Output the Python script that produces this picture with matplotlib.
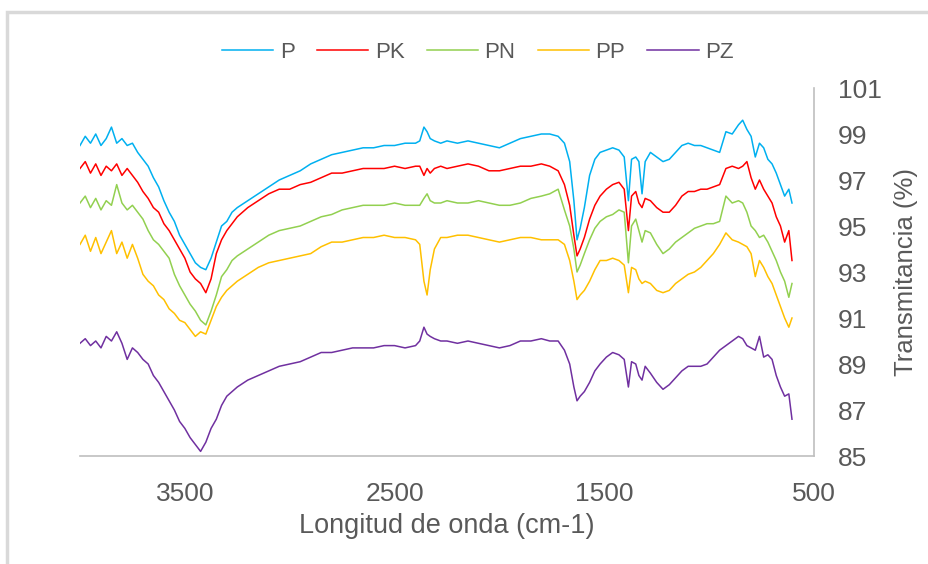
import matplotlib.pyplot as plt
from matplotlib.patches import Rectangle

# Longitud de onda (cm-1), rejilla comun para las cinco muestras
onda = [4000, 3975, 3950, 3925, 3900, 3875, 3850, 3825, 3800, 3775,
        3750, 3725, 3700, 3675, 3650, 3625, 3600, 3575, 3550, 3525,
        3500, 3475, 3450, 3425, 3400, 3375, 3350, 3325, 3300, 3275,
        3250, 3200, 3150, 3100, 3050, 3000, 2950, 2900, 2850, 2800,
        2750, 2700, 2650, 2600, 2550, 2500, 2450, 2400, 2380, 2360,
        2345, 2330, 2310, 2280, 2250, 2200, 2150, 2100, 2050, 2000,
        1950, 1900, 1850, 1800, 1760, 1720, 1690, 1665, 1645, 1630,
        1615, 1595, 1570, 1545, 1520, 1490, 1460, 1430, 1405, 1385,
        1370, 1350, 1335, 1320, 1305, 1280, 1250, 1220, 1190, 1160,
        1130, 1100, 1070, 1040, 1010, 980, 950, 920, 890, 860,
        840, 820, 800, 780, 760, 740, 720, 700, 680, 660,
        640, 620, 605]

P = [98.5, 98.9, 98.6, 99.0, 98.5, 98.8, 99.3, 98.6, 98.8, 98.5,
     98.6, 98.2, 97.9, 97.6, 97.1, 96.7, 96.1, 95.6, 95.2, 94.6,
     94.2, 93.8, 93.4, 93.2, 93.1, 93.6, 94.3, 95.0, 95.2, 95.6,
     95.8, 96.1, 96.4, 96.7, 97.0, 97.2, 97.4, 97.7, 97.9, 98.1,
     98.2, 98.3, 98.4, 98.4, 98.5, 98.5, 98.6, 98.6, 98.7, 99.3,
     99.1, 98.8, 98.7, 98.6, 98.7, 98.6, 98.7, 98.6, 98.5, 98.4,
     98.6, 98.8, 98.9, 99.0, 99.0, 98.9, 98.6, 97.8, 96.1, 94.4,
     94.9, 95.8, 97.2, 97.9, 98.2, 98.3, 98.4, 98.3, 98.0, 96.1,
     97.9, 98.0, 97.8, 96.4, 97.8, 98.2, 98.0, 97.8, 97.9, 98.2,
     98.5, 98.6, 98.5, 98.5, 98.4, 98.3, 98.2, 99.1, 99.0, 99.4,
     99.6, 99.2, 98.9, 98.0, 98.6, 98.4, 97.9, 97.7, 97.3, 96.8,
     96.3, 96.6, 96.0]

PK = [97.5, 97.8, 97.3, 97.7, 97.2, 97.6, 97.4, 97.7, 97.2, 97.5,
      97.2, 96.9, 96.5, 96.2, 95.8, 95.6, 95.1, 94.8, 94.4, 94.0,
      93.6, 93.0, 92.7, 92.5, 92.1, 92.7, 93.8, 94.4, 94.8, 95.1,
      95.4, 95.8, 96.1, 96.4, 96.6, 96.6, 96.8, 96.9, 97.1, 97.3,
      97.3, 97.4, 97.5, 97.5, 97.5, 97.6, 97.5, 97.6, 97.6, 97.2,
      97.5, 97.3, 97.5, 97.6, 97.5, 97.6, 97.7, 97.6, 97.4, 97.4,
      97.5, 97.6, 97.6, 97.7, 97.6, 97.4, 96.8, 95.9, 94.6, 93.7,
      94.0, 94.5, 95.3, 95.9, 96.3, 96.6, 96.8, 96.9, 96.6, 94.8,
      96.3, 96.5, 96.0, 95.8, 96.2, 96.1, 95.8, 95.6, 95.6, 95.9,
      96.3, 96.5, 96.5, 96.6, 96.6, 96.7, 96.8, 97.5, 97.6, 97.5,
      97.6, 97.8, 97.1, 96.6, 97.0, 96.6, 96.3, 96.0, 95.4, 95.0,
      94.3, 94.8, 93.5]

PN = [96.0, 96.3, 95.8, 96.2, 95.7, 96.1, 95.9, 96.8, 96.0, 95.7,
      95.9, 95.6, 95.3, 94.8, 94.4, 94.2, 93.9, 93.6, 92.9, 92.4,
      92.0, 91.6, 91.3, 90.9, 90.7, 91.3, 92.0, 92.8, 93.1, 93.5,
      93.7, 94.0, 94.3, 94.6, 94.8, 94.9, 95.0, 95.2, 95.4, 95.5,
      95.7, 95.8, 95.9, 95.9, 95.9, 96.0, 95.9, 95.9, 95.9, 96.2,
      96.4, 96.1, 96.0, 96.0, 96.1, 96.0, 96.0, 96.1, 96.0, 95.9,
      95.9, 96.0, 96.2, 96.3, 96.4, 96.6, 95.7, 95.0, 94.0, 93.0,
      93.3, 93.8, 94.4, 94.9, 95.2, 95.4, 95.5, 95.7, 95.6, 93.4,
      95.0, 95.3, 94.8, 94.3, 94.8, 94.7, 94.2, 93.8, 94.0, 94.3,
      94.5, 94.7, 94.9, 95.0, 95.1, 95.1, 95.2, 96.3, 96.0, 96.1,
      96.0, 95.6, 95.0, 94.8, 94.5, 94.6, 94.3, 93.9, 93.5, 93.0,
      92.6, 91.9, 92.5]

PP = [94.2, 94.6, 93.9, 94.5, 93.8, 94.3, 94.8, 93.8, 94.3, 93.6,
      94.2, 93.6, 92.9, 92.6, 92.4, 92.0, 91.8, 91.4, 91.2, 90.9,
      90.8, 90.5, 90.2, 90.4, 90.3, 90.9, 91.5, 91.9, 92.2, 92.4,
      92.6, 92.9, 93.2, 93.4, 93.5, 93.6, 93.7, 93.8, 94.1, 94.3,
      94.3, 94.4, 94.5, 94.5, 94.6, 94.5, 94.5, 94.4, 94.2, 92.6,
      92.0, 93.1, 94.0, 94.5, 94.5, 94.6, 94.6, 94.5, 94.4, 94.3,
      94.4, 94.5, 94.5, 94.4, 94.4, 94.4, 94.2, 93.5, 92.6, 91.8,
      92.0, 92.2, 92.6, 93.1, 93.5, 93.5, 93.6, 93.5, 93.3, 92.1,
      93.2, 93.1, 92.7, 92.5, 92.6, 92.5, 92.2, 92.1, 92.2, 92.5,
      92.7, 92.9, 93.0, 93.2, 93.5, 93.8, 94.2, 94.7, 94.4, 94.3,
      94.2, 94.1, 93.8, 92.8, 93.5, 93.2, 92.8, 92.5, 92.0, 91.5,
      91.0, 90.6, 91.0]

PZ = [89.9, 90.1, 89.8, 90.0, 89.7, 90.2, 90.0, 90.4, 89.9, 89.2,
      89.7, 89.5, 89.2, 89.0, 88.5, 88.2, 87.8, 87.4, 87.0, 86.5,
      86.2, 85.8, 85.5, 85.2, 85.6, 86.2, 86.6, 87.2, 87.6, 87.8,
      88.0, 88.3, 88.5, 88.7, 88.9, 89.0, 89.1, 89.3, 89.5, 89.5,
      89.6, 89.7, 89.7, 89.7, 89.8, 89.8, 89.7, 89.8, 90.0, 90.6,
      90.3, 90.2, 90.1, 90.0, 90.0, 89.9, 90.0, 89.9, 89.8, 89.7,
      89.8, 90.0, 90.0, 90.1, 90.0, 90.0, 89.6, 89.0, 88.0, 87.4,
      87.6, 87.8, 88.2, 88.7, 89.0, 89.3, 89.5, 89.4, 89.2, 88.0,
      89.1, 89.0, 88.5, 88.3, 88.9, 88.6, 88.2, 87.9, 88.1, 88.4,
      88.7, 88.9, 88.9, 88.9, 89.0, 89.3, 89.6, 89.8, 90.0, 90.2,
      90.1, 89.8, 89.7, 89.6, 90.2, 89.3, 89.4, 89.2, 88.5, 88.0,
      87.6, 87.7, 86.6]

series = [("P", P, "#00B0F0"), ("PK", PK, "#FF0000"), ("PN", PN, "#92D050"),
          ("PP", PP, "#FFC000"), ("PZ", PZ, "#7030A0")]

gris = "#595959"
plt.rcParams["font.family"] = ["Liberation Sans", "DejaVu Sans"]

fig = plt.figure(figsize=(9.29, 5.64), dpi=100)
ax = fig.add_axes([80 / 929, 1 - 456 / 564, (814 - 80) / 929, (456 - 88) / 564])

for nombre, vals, color in series:
    ax.plot(onda, vals, color=color, linewidth=1.1, label=nombre)

ax.set_xlim(4000, 500)
ax.set_ylim(85, 101)
ax.set_xticks([3500, 2500, 1500, 500])
ax.set_yticks(range(85, 102, 2))
ax.yaxis.tick_right()
ax.tick_params(length=0, labelsize=19, labelcolor=gris)
ax.tick_params(axis="y", pad=17)
ax.tick_params(axis="x", pad=19)
for lado in ["top", "left"]:
    ax.spines[lado].set_visible(False)
for lado in ["bottom", "right"]:
    ax.spines[lado].set_color("#BFBFBF")
    ax.spines[lado].set_linewidth(1.2)

ax.set_xlabel("Longitud de onda (cm-1)", fontsize=19.5, color=gris, labelpad=5)
ax.set_ylabel("Transmitancia (%)", fontsize=18.5, color=gris)
ax.yaxis.set_label_coords((918 - 80) / 734, 0.5)

fig.legend(loc="center", bbox_to_anchor=(478 / 929, 1 - 52 / 564), ncol=5,
           frameon=False, fontsize=16, labelcolor=gris, handlelength=2.3,
           handletextpad=0.3, columnspacing=1.0)

# marco del area del grafico
fig.patches.append(Rectangle((7 / 929, -0.1), 1.2, 1 - 12 / 564 + 0.1,
                             transform=fig.transFigure, fill=False,
                             edgecolor="#D9D9D9", linewidth=2.5))

fig.savefig("out.png", dpi=100)
plt.close()
